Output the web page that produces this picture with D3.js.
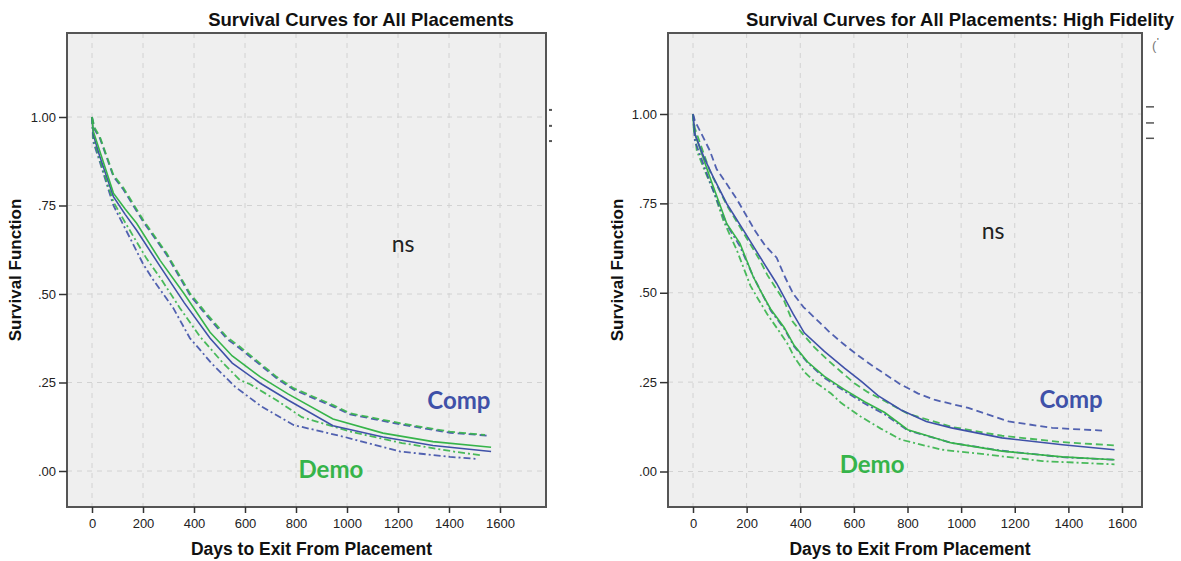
<!DOCTYPE html>
<html>
<head>
<meta charset="utf-8">
<script src="https://cdn.jsdelivr.net/npm/d3@7"></script>
<style>
  html, body { margin: 0; padding: 0; background: #ffffff; }
  svg { display: block; }
</style>
</head>
<body>
<svg id="chart" width="1181" height="561"></svg>
<script>
// ---------------- DATA ----------------
const xTicks = [0, 200, 400, 600, 800, 1000, 1200, 1400, 1600];
const yTicks = [0, 0.25, 0.5, 0.75, 1.0];
const yTickLabels = [".00", ".25", ".50", ".75", "1.00"];

const titles = ["Survival Curves for All Placements", "Survival Curves for All Placements: High Fidelity"];
const xAxisTitle = "Days to Exit From Placement";
const yAxisTitle = "Survival Function";
const groups = ["Comp", "Demo"];

// Left panel: all placements  [day, survival]
const leftCompSurv = [[0,1],[5,0.95],[30,0.89],[84,0.775],[130,0.725],[175,0.68],[267,0.578],[362,0.475],[463,0.375],[550,0.305],[660,0.248],[770,0.2],[945,0.128],[1141,0.096],[1337,0.072],[1565,0.055]];
const leftCompUpper = [[0,1],[10,0.965],[31,0.94],[84,0.832],[123,0.795],[201,0.704],[293,0.61],[384,0.497],[437,0.45],[528,0.374],[580,0.346],[724,0.262],[790,0.23],[946,0.182],[1012,0.16],[1208,0.132],[1404,0.108],[1551,0.1]];
const leftCompLower = [[0,1],[5,0.93],[30,0.875],[84,0.75],[135,0.678],[201,0.584],[240,0.54],[319,0.46],[384,0.375],[424,0.342],[469,0.304],[561,0.238],[665,0.182],[790,0.13],[986,0.097],[1208,0.055],[1404,0.04],[1509,0.034]];
const leftDemoSurv = [[0,1],[5,0.96],[30,0.905],[84,0.785],[130,0.74],[175,0.7],[267,0.595],[362,0.5],[463,0.392],[550,0.325],[660,0.266],[770,0.217],[945,0.147],[1141,0.107],[1337,0.083],[1565,0.067]];
const leftDemoUpper = [[0,1],[10,0.97],[31,0.944],[84,0.836],[123,0.8],[201,0.709],[293,0.615],[384,0.502],[437,0.455],[528,0.379],[580,0.351],[724,0.266],[790,0.234],[946,0.186],[1012,0.163],[1208,0.135],[1404,0.111],[1541,0.102]];
const leftDemoLower = [[0,1],[5,0.94],[30,0.88],[84,0.76],[135,0.696],[214,0.6],[273,0.54],[345,0.46],[424,0.379],[515,0.304],[580,0.257],[620,0.245],[724,0.2],[823,0.152],[1020,0.11],[1216,0.079],[1426,0.054],[1531,0.044]];

// Right panel: high fidelity  [day, survival]
const rightCompSurv = [[0,1],[7,0.944],[40,0.88],[76,0.823],[126,0.749],[188,0.675],[250,0.6],[312,0.526],[374,0.44],[415,0.388],[490,0.336],[565,0.289],[628,0.252],[690,0.212],[776,0.172],[870,0.14],[964,0.122],[1152,0.094],[1378,0.075],[1572,0.061]];
const rightCompUpper = [[0,1],[7,0.981],[32,0.944],[63,0.897],[88,0.846],[126,0.804],[163,0.762],[231,0.674],[269,0.632],[312,0.598],[343,0.544],[374,0.497],[412,0.46],[462,0.424],[509,0.39],[559,0.358],[615,0.325],[665,0.298],[721,0.27],[771,0.245],[840,0.218],[903,0.2],[1027,0.178],[1177,0.14],[1340,0.122],[1535,0.114]];
const rightCompLower = [[0,1],[7,0.925],[63,0.81],[126,0.69],[175,0.63],[225,0.545],[290,0.45],[340,0.4],[377,0.35],[427,0.305],[490,0.262],[565,0.225],[640,0.19],[715,0.16],[801,0.115],[964,0.08],[1152,0.058],[1378,0.04],[1572,0.033]];
const rightDemoSurv = [[0,1],[3,0.953],[63,0.823],[126,0.693],[175,0.638],[225,0.544],[252,0.505],[290,0.454],[340,0.403],[377,0.353],[427,0.307],[490,0.266],[565,0.229],[640,0.195],[715,0.165],[801,0.117],[964,0.08],[1152,0.057],[1378,0.041],[1572,0.033]];
const rightDemoUpper = [[0,1],[7,0.96],[63,0.84],[126,0.745],[188,0.668],[250,0.59],[277,0.55],[340,0.477],[371,0.42],[409,0.385],[452,0.348],[502,0.312],[552,0.279],[602,0.247],[652,0.222],[715,0.197],[801,0.162],[964,0.125],[1152,0.1],[1378,0.082],[1572,0.073]];
const rightDemoLower = [[0,1],[14,0.898],[39,0.85],[76,0.785],[114,0.701],[164,0.618],[214,0.52],[240,0.486],[277,0.44],[315,0.399],[352,0.358],[377,0.321],[415,0.279],[452,0.252],[515,0.218],[552,0.192],[625,0.154],[700,0.12],[776,0.089],[927,0.061],[1102,0.047],[1303,0.029],[1572,0.02]];

// annotation positions in data units [day, survival]
const leftAnnotations = [["ns", 1220, 0.644], ["Comp", 1439, 0.203], ["Demo", 937, 0.008]];
const rightAnnotations = [["ns", 1119, 0.675], ["Comp", 1410, 0.204], ["Demo", 668, 0.022]];

// ---------------- STYLE / LAYOUT ----------------
const colors = { Comp: "#3f51a8", Demo: "#36b44a" };
const dashStyles = { surv: null, upper: "7,4", lower: "7,3,2,3" };

const panels = [
  {
    title: titles[0], titleX: 361,
    box: { x0: 67, x1: 546, y0: 33, y1: 507 },
    xPix: [92, 500], yPix: [471, 117],
    series: [
      ["Comp","lower",leftCompLower],["Demo","lower",leftDemoLower],
      ["Comp","upper",leftCompUpper],["Demo","upper",leftDemoUpper],
      ["Comp","surv",leftCompSurv],["Demo","surv",leftDemoSurv]
    ],
    annotations: leftAnnotations,
    yTitleX: 15,
    sideMarks: "dots"
  },
  {
    title: titles[1], titleX: 960,
    box: { x0: 668, x1: 1142, y0: 33, y1: 507 },
    xPix: [693, 1122], yPix: [471.5, 114],
    series: [
      ["Demo","lower",rightDemoLower],["Comp","lower",rightCompLower],
      ["Demo","upper",rightDemoUpper],["Comp","upper",rightCompUpper],
      ["Demo","surv",rightDemoSurv],["Comp","surv",rightCompSurv]
    ],
    annotations: rightAnnotations,
    yTitleX: 617,
    sideMarks: "lines"
  }
];

const svg = d3.select("#chart");
const FONT = "Liberation Sans, Arial, sans-serif";

panels.forEach(p => {
  const g = svg.append("g");
  const x = d3.scaleLinear().domain([0, 1600]).range(p.xPix);
  const y = d3.scaleLinear().domain([0, 1]).range(p.yPix);
  const b = p.box;

  // plot background
  g.append("rect")
    .attr("x", b.x0).attr("y", b.y0)
    .attr("width", b.x1 - b.x0).attr("height", b.y1 - b.y0)
    .attr("fill", "#efefef");

  // gridlines
  g.selectAll(".vgrid").data(xTicks).enter().append("line")
    .attr("x1", d => x(d)).attr("x2", d => x(d))
    .attr("y1", b.y0).attr("y2", b.y1)
    .attr("stroke", "#d2d2d2").attr("stroke-width", 1)
    .attr("stroke-dasharray", "5,5");
  g.selectAll(".hgrid").data(yTicks).enter().append("line")
    .attr("x1", b.x0).attr("x2", b.x1)
    .attr("y1", d => y(d)).attr("y2", d => y(d))
    .attr("stroke", "#d2d2d2").attr("stroke-width", 1)
    .attr("stroke-dasharray", "5,5");

  // curves
  const clipId = "clip" + b.x0;
  svg.append("clipPath").attr("id", clipId).append("rect")
    .attr("x", b.x0).attr("y", b.y0).attr("width", b.x1 - b.x0).attr("height", b.y1 - b.y0);
  const line = d3.line().x(d => x(d[0])).y(d => y(d[1])).curve(d3.curveLinear);
  const cg = g.append("g").attr("clip-path", `url(#${clipId})`);
  p.series.forEach(([grp, kind, data]) => {
    cg.append("path")
      .attr("d", line(data))
      .attr("fill", "none")
      .attr("stroke", colors[grp])
      .attr("stroke-width", kind === "surv" ? 1.6 : 1.8)
      .attr("stroke-opacity", kind === "surv" ? 1 : 0.9)
      .attr("stroke-dasharray", dashStyles[kind]);
  });

  // box border
  g.append("rect")
    .attr("x", b.x0).attr("y", b.y0)
    .attr("width", b.x1 - b.x0).attr("height", b.y1 - b.y0)
    .attr("fill", "none").attr("stroke", "#555").attr("stroke-width", 2);

  // x axis (ticks below box)
  const xAxis = d3.axisBottom(x).tickValues(xTicks).tickSize(6).tickSizeOuter(0).tickFormat(d3.format("d"));
  const xa = g.append("g").attr("transform", `translate(0,${b.y1})`).call(xAxis);
  xa.select(".domain").remove();
  xa.selectAll(".tick line").attr("stroke", "#333").attr("stroke-width", 1.5);
  xa.selectAll(".tick text")
    .attr("font-family", FONT)
    .attr("font-size", 13).attr("fill", "#222").attr("dy", "0.95em");

  // y axis (ticks left of box)
  const yAxis = d3.axisLeft(y).tickValues(yTicks).tickSize(8).tickSizeOuter(0)
    .tickFormat((d, i) => yTickLabels[i]);
  const ya = g.append("g").attr("transform", `translate(${b.x0},0)`).call(yAxis);
  ya.select(".domain").remove();
  ya.selectAll(".tick line").attr("stroke", "#333").attr("stroke-width", 1.5);
  ya.selectAll(".tick text")
    .attr("font-family", FONT)
    .attr("font-size", 13).attr("fill", "#222").attr("x", -11);

  // titles
  g.append("text")
    .attr("x", p.titleX).attr("y", 26)
    .attr("text-anchor", "middle")
    .attr("font-family", FONT)
    .attr("font-weight", "bold").attr("font-size", 18.5).attr("fill", "#111")
    .text(p.title);

  g.append("text")
    .attr("x", (b.x0 + b.x1) / 2 + 5).attr("y", 555)
    .attr("text-anchor", "middle")
    .attr("font-family", FONT)
    .attr("font-weight", "bold").attr("font-size", 17.5).attr("fill", "#111")
    .text(xAxisTitle);

  g.append("text")
    .attr("transform", `translate(${p.yTitleX + 6},${(b.y0 + b.y1) / 2}) rotate(-90)`)
    .attr("text-anchor", "middle")
    .attr("font-family", FONT)
    .attr("font-weight", "bold").attr("font-size", 17).attr("fill", "#111")
    .text(yAxisTitle);

  // annotations
  p.annotations.forEach(([t, d, v]) => {
    const isGroup = groups.includes(t);
    g.append("text")
      .attr("x", x(d)).attr("y", y(v))
      .attr("text-anchor", "middle").attr("dominant-baseline", "central")
      .attr("font-family", "Lato, 'Open Sans', sans-serif")
      .attr("font-weight", isGroup ? "bold" : "normal")
      .attr("font-size", isGroup ? 24 : 23)
      .attr("fill", isGroup ? colors[t] : "#222")
      .text(t);
  });

  // clipped legend remnants at the right edge
  const markYs = [y(1.02), y(0.975), y(0.932)];
  if (p.sideMarks === "dots") {
    g.selectAll(".sm").data(markYs).enter().append("rect")
      .attr("x", b.x1 + 3).attr("y", d => d - 1).attr("width", 3).attr("height", 2)
      .attr("fill", "#555");
  } else {
    g.selectAll(".sm").data(markYs).enter().append("line")
      .attr("x1", b.x1 + 4).attr("x2", b.x1 + 12)
      .attr("y1", d => d).attr("y2", d => d)
      .attr("stroke", "#555").attr("stroke-width", 1.5);
    g.append("text").attr("x", b.x1 + 10).attr("y", 50)
      .attr("font-family", FONT)
      .attr("font-size", 13).attr("fill", "#777").text("(");
    g.append("text").attr("x", b.x1 + 15).attr("y", 44)
      .attr("font-family", FONT)
      .attr("font-size", 9).attr("fill", "#333").text("'");
  }
});
</script>
</body>
</html>
